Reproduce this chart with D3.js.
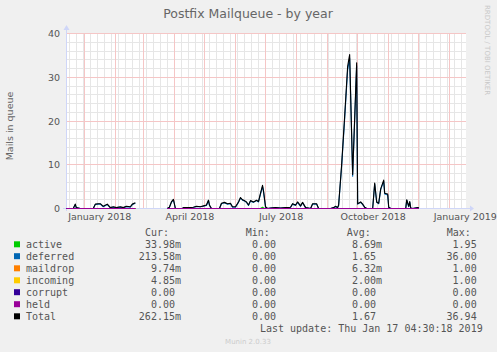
<!DOCTYPE html>
<html><head><meta charset="utf-8">
<script src="https://cdn.jsdelivr.net/npm/d3@7"></script>
<style>
html,body{margin:0;padding:0;background:#F0F0F0;}
svg{display:block;}
text{font-family:"DejaVu Sans",sans-serif;}
.mono{font-family:"DejaVu Sans Mono",monospace;}
</style></head>
<body>
<script>
// ---- data ----
const title = "Postfix Mailqueue - by year";
const yLabel = "Mails in queue";
const yTicks = [0, 10, 20, 30, 40];
const xLabelMonths = ["2018-01-16", "2018-04-16", "2018-07-16", "2018-10-16", "2019-01-16"];
const xLabelTexts = ["January 2018", "April 2018", "July 2018", "October 2018", "January 2019"];

const dates = ["2017-12-14","2017-12-21","2017-12-23","2017-12-24","2017-12-26","2017-12-28",
 "2018-01-10","2018-01-12","2018-01-15","2018-01-17","2018-01-20","2018-01-24","2018-01-27","2018-01-30",
 "2018-02-02","2018-02-06","2018-02-09","2018-02-12","2018-02-16","2018-02-18","2018-02-21","2018-03-01",
 "2018-03-25","2018-03-27","2018-03-29","2018-03-31","2018-04-02","2018-04-09","2018-04-10","2018-04-15",
 "2018-04-20","2018-04-23","2018-04-27","2018-04-30","2018-05-03","2018-05-05","2018-05-06","2018-05-08",
 "2018-05-16","2018-05-18","2018-05-21","2018-05-24","2018-05-27","2018-05-29","2018-06-01","2018-06-04",
 "2018-06-06","2018-06-08","2018-06-10","2018-06-12","2018-06-14","2018-06-16","2018-06-19","2018-06-22",
 "2018-06-24","2018-06-26","2018-06-28","2018-06-29","2018-07-01","2018-07-03","2018-07-06","2018-07-11",
 "2018-07-16","2018-07-21","2018-07-26","2018-07-28","2018-07-31","2018-08-02","2018-08-05","2018-08-07",
 "2018-08-10","2018-08-15","2018-08-17","2018-08-21","2018-08-23","2018-09-04","2018-09-07","2018-09-09",
 "2018-09-11","2018-09-12","2018-09-15","2018-09-18","2018-09-21","2018-09-23","2018-09-26","2018-09-30",
 "2018-10-01","2018-10-04","2018-10-06","2018-10-08","2018-10-10","2018-10-16","2018-10-18","2018-10-20",
 "2018-10-22","2018-10-24","2018-10-27","2018-10-28","2018-10-31","2018-11-01","2018-11-03","2018-11-18",
 "2018-11-19","2018-11-21","2018-11-22","2018-11-23","2018-11-25","2018-11-30","2018-12-01"];

const totalVals = [0,0,1.0,0.2,0.1,0,
 0,1.0,1.1,1.1,0.5,1.0,0.2,0.4,
 0.2,0.4,0.2,0.5,0.4,1.0,1.3,null,
 0,0.3,1.5,2.1,0,0,0.2,0.2,
 0.3,0.5,0.4,0.6,0.8,1.9,0.8,0,
 0,1.2,1.4,1.1,1.2,0.4,0.4,1.5,
 2.5,2.0,1.8,1.5,0.8,1.8,1.5,1.9,
 1.6,3.5,5.3,4.0,0.4,0,0.1,0.2,
 0.1,0.2,0.3,1.1,0.8,1.5,0.6,1.4,
 0.2,0,1.1,1.1,0,0,0.2,0.5,
 0.2,0.8,10.0,21.0,32.5,35.2,7.8,33.3,
 1.1,1.5,1.0,0.3,0,0,5.8,1.5,
 1.2,4.5,6.5,3.5,3.3,0.3,0,0,
 2.0,0.5,1.6,0.1,0,0.2,0.2];

const deferredVals = [0,0,0.9,0.2,0.1,0,
 0,0.9,1.0,1.0,0.4,0.9,0.2,0.3,
 0.2,0.3,0.2,0.4,0.3,0.9,1.2,null,
 0,0.3,1.4,2.0,0,0,0.2,0.2,
 0.3,0.4,0.4,0.5,0.7,1.8,0.7,0,
 0,1.1,1.3,1.0,1.1,0.3,0.3,1.4,
 2.4,1.9,1.7,1.4,0.7,1.7,1.4,1.8,
 1.5,3.3,5.0,3.8,0.3,0,0.1,0.2,
 0.1,0.2,0.3,1.0,0.7,1.4,0.5,1.3,
 0.2,0,1.0,1.0,0,0,0.2,0.4,
 0.2,0.7,9.6,20.4,31.7,34.4,7.4,32.6,
 1.0,1.4,0.9,0.3,0,0,5.6,1.4,
 1.1,4.3,6.2,3.3,3.1,0.3,0,0,
 1.9,0.4,1.5,0.1,0,0.2,0.2];

const activeDates = ["2017-12-14","2018-02-21","2018-03-01","2018-03-25","2018-06-26","2018-06-28","2018-06-30","2018-12-01"];
const activeVals  = [0,0,null,0,0,0.3,0,0];
const maildropDates = ["2017-12-14","2018-02-21","2018-03-01","2018-03-25","2018-12-01"];
const maildropVals  = [0,0,null,0,0];
const incomingDates = ["2017-12-14","2018-02-21","2018-03-01","2018-03-25","2018-12-01"];
const incomingVals  = [0,0,null,0,0];
const corruptDates = ["2017-12-14","2018-02-21","2018-03-01","2018-03-25","2018-12-01"];
const corruptVals  = [0,0,null,0,0];
const heldDates = ["2017-12-14","2018-02-21","2018-03-01","2018-03-25","2018-12-01"];
const heldVals  = [0,0,null,0,0];

const legendNames  = ["active","deferred","maildrop","incoming","corrupt","held","Total"];
const legendColors = ["#00CC00","#0066B3","#FF8000","#FFCC00","#330099","#990099","#000000"];
const legendCur = ["33.98m","213.58m","9.74m","4.85m","0.00","0.00","262.15m"];
const legendMin = ["0.00","0.00","0.00","0.00","0.00","0.00","0.00"];
const legendAvg = ["8.69m","1.65","6.32m","2.00m","0.00","0.00","1.67"];
const legendMax = ["1.95","36.00","1.00","1.00","0.00","0.00","36.94"];
const lastUpdate = "Last update: Thu Jan 17 04:30:18 2019";
const rangeStart = "2017-12-13T18:00:00Z";
const rangeEnd = "2019-01-17T04:30:00Z";

// ---- drawing ----
const W = 497, H = 352;
const L = 66, R = 466, T = 33, B = 208;
const svg = d3.select("body").append("svg").attr("width", W).attr("height", H);
svg.append("rect").attr("width", W).attr("height", H).attr("fill", "#F0F0F0");
svg.append("rect").attr("x", L).attr("y", T).attr("width", R - L).attr("height", B - T + 1).attr("fill", "#FFFFFF");

const parse = d3.utcParse("%Y-%m-%d");
const x = d3.scaleUtc().domain([new Date(rangeStart), new Date(rangeEnd)]).range([L, R]);
const y = d3.scaleLinear().domain([0, 40]).range([B + 0.5, T + 0.5]);
const px = v => Math.floor(v) + 0.5;

const grid = svg.append("g").attr("shape-rendering", "crispEdges").attr("stroke-width", 1);
const minorCol = "#E6E6E6", majorCol = "#F5C6C6";
const hLine = (v, col) => grid.append("path").attr("d", `M${L},${px(y(v))}H${R}`).attr("stroke", col).attr("fill", "none");
const vLine = (d, col) => grid.append("path").attr("d", `M${px(x(d))},${T}V${B}`).attr("stroke", col).attr("fill", "none");
d3.range(0, 41, 2).filter(v => v % 10 !== 0).forEach(v => hLine(v, minorCol));
d3.utcSunday.range(x.domain()[0], x.domain()[1]).forEach(d => vLine(d, minorCol));
yTicks.filter(v => v > 0).forEach(v => hLine(v, majorCol));
d3.utcMonth.range(x.domain()[0], x.domain()[1]).forEach(d => vLine(d, majorCol));

// axes lines with arrows
const axisCol = "#CFD6F8";
svg.append("line").attr("x1", 63).attr("x2", 470).attr("y1", B + 0.5).attr("y2", B + 0.5).attr("stroke", axisCol);
svg.append("path").attr("d", `M470,${B-2.5} L474,${B+0.5} L470,${B+3.5} Z`).attr("fill", axisCol);
svg.append("line").attr("x1", L + 0.5).attr("x2", L + 0.5).attr("y1", B + 3).attr("y2", 29).attr("stroke", axisCol);
svg.append("path").attr("d", `M${L-2.5},30 L${L+0.5},25 L${L+3.5},30 Z`).attr("fill", axisCol);

// y axis labels
const yAxis = d3.axisLeft(y).tickValues(yTicks).tickSize(0).tickPadding(6);
const yg = svg.append("g").attr("transform", `translate(${L},0)`).call(yAxis);
yg.select(".domain").remove();
yg.selectAll("text").attr("font-size", "9.5px").attr("fill", "#555").attr("font-family", "DejaVu Sans");

// x labels
const xAxis = d3.axisBottom(x).tickValues(xLabelMonths.map(parse))
  .tickFormat((d, i) => xLabelTexts[i]).tickSize(0).tickPadding(4);
const xg = svg.append("g").attr("transform", `translate(0,${B + 1})`).call(xAxis);
xg.select(".domain").remove();
xg.selectAll("text").attr("font-size", "9.5px").attr("fill", "#555").attr("font-family", "DejaVu Sans");

// series
svg.append("clipPath").attr("id", "clip").append("rect").attr("x", L).attr("y", T - 5).attr("width", R - L).attr("height", B - T + 6);
const plot = svg.append("g").attr("clip-path", "url(#clip)");
const mk = (ds, vs) => ds.map((d, i) => ({d: parse(d), v: vs[i]}));
const line = d3.line().defined(p => p.v != null).x(p => x(p.d)).y(p => y(p.v));
const series = [
  {data: mk(activeDates, activeVals), color: legendColors[0]},
  {data: mk(dates, deferredVals), color: legendColors[1]},
  {data: mk(maildropDates, maildropVals), color: legendColors[2]},
  {data: mk(incomingDates, incomingVals), color: legendColors[3]},
  {data: mk(dates, totalVals), color: legendColors[6]},
  {data: mk(corruptDates, corruptVals), color: legendColors[4]},
  {data: mk(heldDates, heldVals), color: legendColors[5]}
];
series.forEach(s => {
  plot.append("path").datum(s.data).attr("d", line).attr("fill", "none")
    .attr("stroke", s.color).attr("stroke-width", 1.1).attr("stroke-linejoin", "round");
});

// title
svg.append("text").attr("x", 248).attr("y", 18).attr("text-anchor", "middle")
  .attr("font-size", "12.5px").attr("fill", "#666").text(title);
// y label
svg.append("text").attr("transform", "translate(13,126) rotate(-90)").attr("text-anchor", "middle")
  .attr("font-size", "9.5px").attr("fill", "#666").text(yLabel);
// rrdtool watermark
svg.append("text").attr("transform", "translate(485,5) rotate(90)").attr("text-anchor", "start")
  .attr("font-size", "7px").attr("fill", "#C8C8C8").text("RRDTOOL / TOBI OETIKER");

// legend
const lg = svg.append("g").attr("class", "mono");
const fs = 10, cw = 6.02;
const hdrY = 236.2;
[["Cur:", 145], ["Min:", 245.7], ["Avg:", 346.7], ["Max:", 446.7]].forEach(h => {
  lg.append("text").attr("class", "mono").attr("x", h[1]).attr("y", hdrY).attr("font-size", fs + "px").attr("fill", "#555").text(h[0]);
});
const rowY = [244.3, 256.2, 268.3, 280.3, 292.2, 304.2, 316.3];
const colRight = [181, 282, 382, 482.7];
const cols = [legendCur, legendMin, legendAvg, legendMax];
legendNames.forEach((n, i) => {
  const yy = rowY[i];
  lg.append("rect").attr("x", 14).attr("y", yy - 3).attr("width", 6).attr("height", 6).attr("fill", legendColors[i]);
  lg.append("text").attr("class", "mono").attr("x", 26).attr("y", yy + 3.6).attr("font-size", fs + "px").attr("fill", "#555").text(n);
  cols.forEach((c, j) => {
    const s = c[i];
    const hasUnit = /[a-zA-Z]$/.test(s);
    lg.append("text").attr("class", "mono").attr("x", colRight[j] - (hasUnit ? 0 : cw)).attr("y", yy + 3.6)
      .attr("text-anchor", "end").attr("font-size", fs + "px").attr("fill", "#555").text(s);
  });
});
lg.append("text").attr("class", "mono").attr("x", 482.7).attr("y", 331.9).attr("text-anchor", "end")
  .attr("font-size", fs + "px").attr("fill", "#555").text(lastUpdate);
svg.append("text").attr("x", 248).attr("y", 344).attr("text-anchor", "middle")
  .attr("font-size", "7px").attr("fill", "#CCCCCC").text("Munin 2.0.33");
</script>
</body></html>
